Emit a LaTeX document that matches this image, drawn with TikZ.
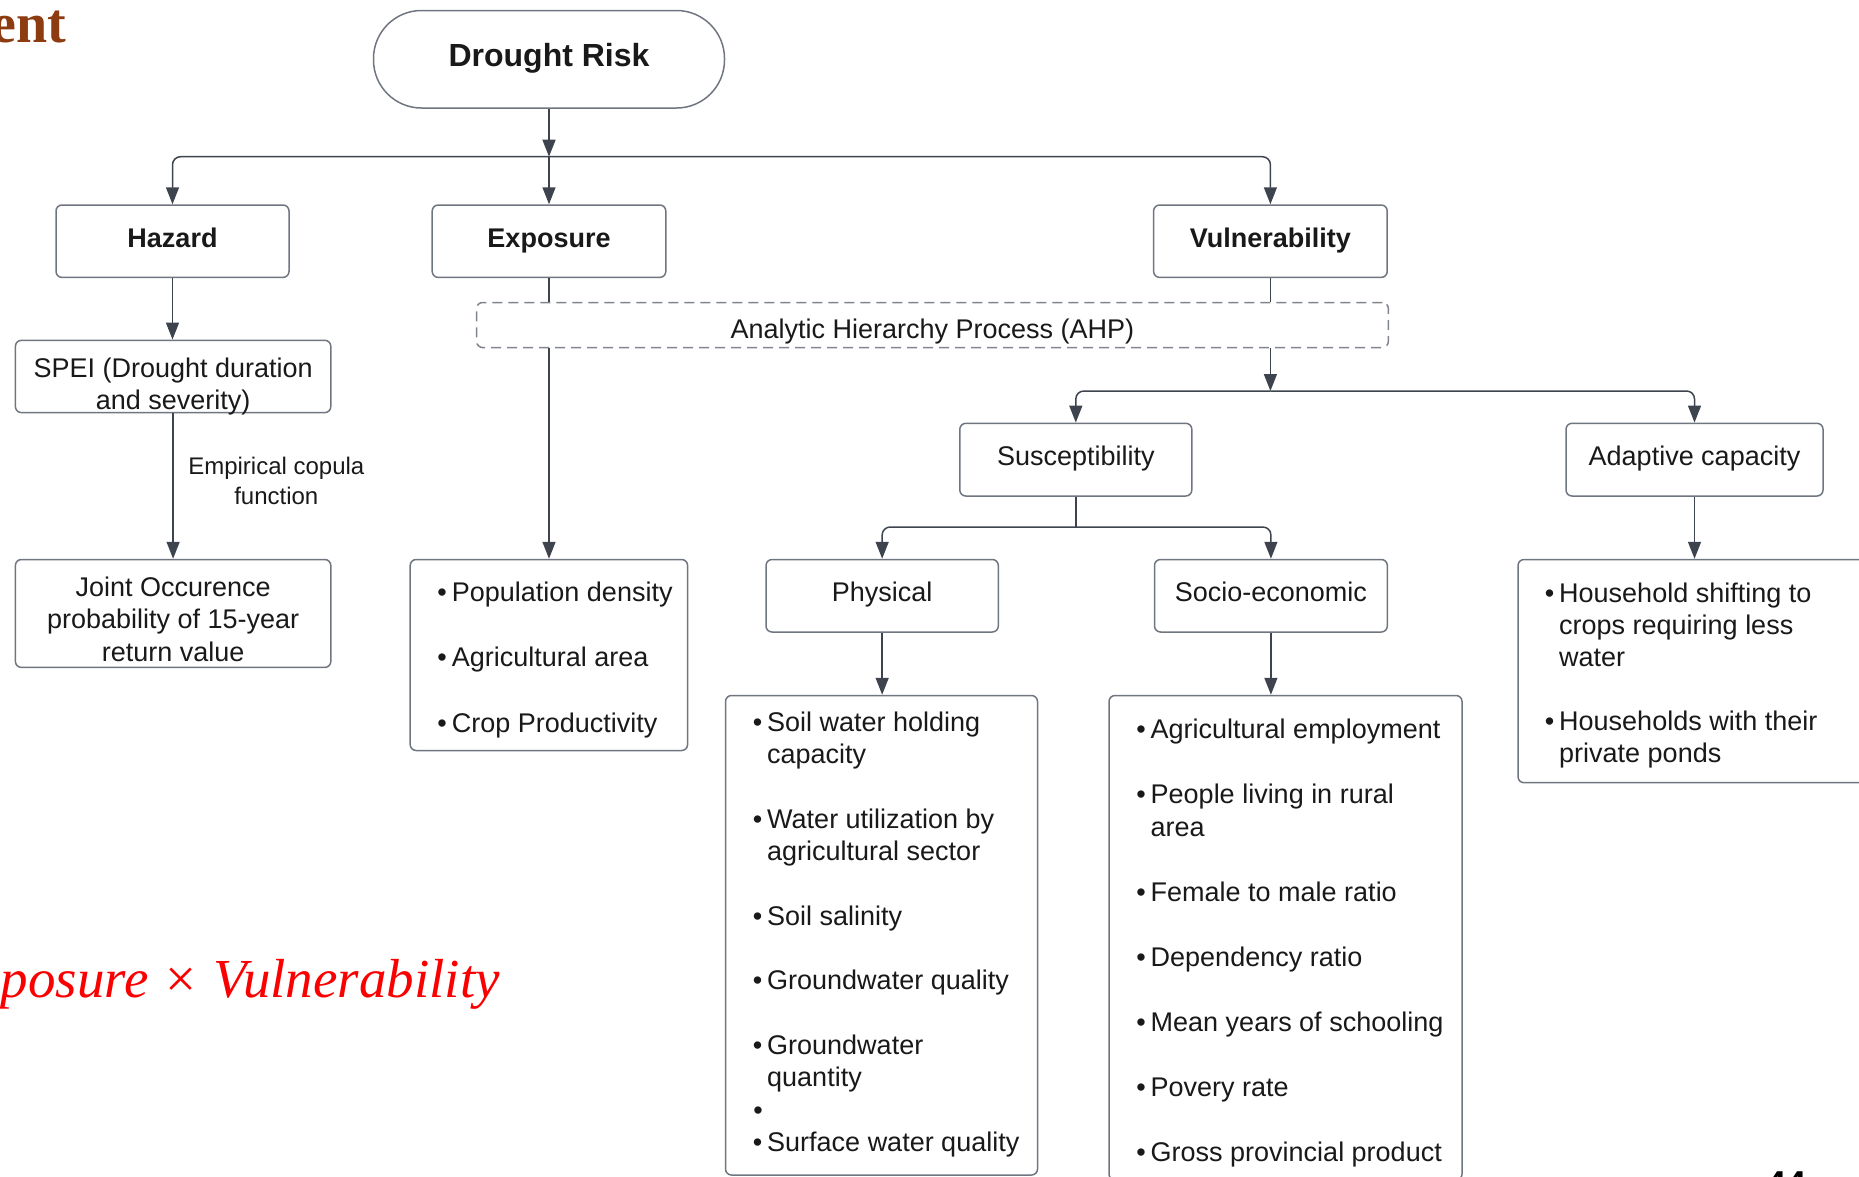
\documentclass[tikz,border=0pt]{standalone}
\usepackage{fontspec}
\setmainfont{Liberation Sans}
\newfontfamily\serifLS{Liberation Serif}
\usetikzlibrary{arrows.meta}
\definecolor{boxline}{RGB}{112,118,128}
\definecolor{dashline}{RGB}{128,132,140}
\definecolor{conn}{RGB}{62,68,78}
\definecolor{txt}{RGB}{25,25,25}
\definecolor{titlebrown}{RGB}{140,60,16}
\definecolor{formred}{RGB}{250,0,0}
\newcommand\fsBox{\fontsize{27}{32.4}\selectfont}
\newcommand\fsBig{\fontsize{32}{36}\selectfont}
\newcommand\fsLab{\fontsize{24}{29}\selectfont}
\newcommand\bul{\llap{\textbullet\hspace{5pt}}}
\begin{document}
\begin{tikzpicture}[x=1pt,y=-1pt,
  box/.style={draw=boxline, line width=1.5pt, rounded corners=6pt, fill=white,
    inner sep=0pt, text=txt, font=\fsBox, text height=18.6pt, text depth=6.75pt},
  bbox/.style={box, font=\fsBox\bfseries},
  item/.style={anchor=base west, inner sep=0pt, text=txt, font=\fsBox},
  citem/.style={anchor=base, inner sep=0pt, text=txt, font=\fsBox},
  con/.style={draw=conn, line width=1.5pt, rounded corners=8pt},
  arr/.style={con, -{Triangle[length=17pt,width=13pt]}},
]
\useasboundingbox (0,0) rectangle (1859,1176);
\clip (0,0) rectangle (1859,1176);

% title fragment and formula
\node[anchor=base east, inner sep=0pt, text=titlebrown,
  font=\serifLS\bfseries\fontsize{56}{60}\selectfont] (ttl) at (66,42) {ent};
\node[anchor=base east, inner sep=0pt, text=formred,
  font=\serifLS\itshape\fontsize{55}{60}\selectfont] (formula) at (500,997)
  {Exposure\hspace{17pt}{\upshape ×}\hspace{17pt}Vulnerability};
\node[anchor=base west, inner sep=0pt, text=black,
  font=\bfseries\fontsize{36}{40}\selectfont] (pnum) at (1766,1196) {44};

% main boxes
\node[box, font=\fsBig\bfseries, text height=22pt, text depth=8pt,
  rounded corners=48pt, minimum width=351pt, minimum height=97.5pt]
  (drought) at (549,59.25) {Drought Risk};
\node[bbox, minimum width=233pt, minimum height=72.4pt] (hazard) at (172.5,241.2) {Hazard};
\node[bbox, minimum width=233.6pt, minimum height=72.4pt] (exposure) at (549,241.2) {Exposure};
\node[bbox, minimum width=233.6pt, minimum height=72.4pt] (vuln) at (1270.4,241.2) {Vulnerability};

\node[draw=dashline, line width=1.5pt, dash pattern=on 10pt off 6pt, rounded corners=6pt,
  minimum width=911.7pt, minimum height=45pt, inner sep=0pt] (ahp) at (932.45,325) {};
\node[citem] (ahptext) at (932.45,338) {Analytic Hierarchy Process (AHP)};

\node[box, minimum width=315.4pt, minimum height=72.3pt] (spei) at (173.1,376.45) {};
\node[citem] (spei1) at (173.1,377.5) {SPEI (Drought duration};
\node[citem] (spei2) at (173.1,409.5) {and severity)};

\node[box, minimum width=315.4pt, minimum height=107.9pt] (joint) at (173.1,613.45) {};
\node[citem] (joint1) at (173.1,596) {Joint Occurence};
\node[citem] (joint2) at (173.1,628.5) {probability of 15-year};
\node[citem] (joint3) at (173.1,661) {return value};

\node[anchor=base, inner sep=0pt, text=txt, font=\fsLab] (lab1) at (276.3,474.5) {Empirical copula};
\node[anchor=base, inner sep=0pt, text=txt, font=\fsLab] (lab2) at (276.3,504) {function};

\node[box, minimum width=277.4pt, minimum height=191pt] (pop) at (548.9,655) {};
\node[item] (pop1) at (451.7,601.6) {\bul Population density};
\node[item] (pop2) at (451.7,666.8) {\bul Agricultural area};
\node[item] (pop3) at (451.7,732) {\bul Crop Productivity};

\node[box, minimum width=232pt, minimum height=72.7pt] (susc) at (1075.8,459.65) {Susceptibility};
\node[box, minimum width=257pt, minimum height=72.7pt] (adapt) at (1694.5,459.65) {Adaptive capacity};
\node[box, minimum width=232.3pt, minimum height=72.5pt] (phys) at (882.15,595.75) {Physical};
\node[box, minimum width=232.8pt, minimum height=72.5pt] (socio) at (1270.9,595.75) {Socio-economic};

% physical list
\node[box, minimum width=312pt, minimum height=479.5pt] (physlist) at (881.5,935.25) {};
\node[item] (ph1) at (767,731.5) {\bul Soil water holding};
\node[item] (ph2) at (767,763.8) {capacity};
\node[item] (ph3) at (767,828.4) {\bul Water utilization by};
\node[item] (ph4) at (767,860.7) {agricultural sector};
\node[item] (ph5) at (767,925.3) {\bul Soil salinity};
\node[item] (ph6) at (767,989.9) {\bul Groundwater quality};
\node[item] (ph7) at (767,1054.5) {\bul Groundwater};
\node[item] (ph8) at (767,1086.8) {quantity};
\node[item] (ph9) at (767,1119.1) {\bul\strut};
\node[item] (ph10) at (767,1151.4) {\bul Surface water quality};

% socio-economic list
\node[box, minimum width=353pt, minimum height=484.5pt] (soclist) at (1285.5,937.75) {};
\node[item] (so1) at (1150.5,738.5) {\bul Agricultural employment};
\node[item] (so2) at (1150.5,803.5) {\bul People living in rural};
\node[item] (so3) at (1150.5,836) {area};
\node[item] (so4) at (1150.5,901) {\bul Female to male ratio};
\node[item] (so5) at (1150.5,966) {\bul Dependency ratio};
\node[item] (so6) at (1150.5,1031) {\bul Mean years of schooling};
\node[item] (so7) at (1150.5,1096) {\bul Povery rate};
\node[item] (so8) at (1150.5,1161) {\bul Gross provincial product};

% adaptive list
\node[box, minimum width=382pt, minimum height=223.2pt] (hh) at (1709,671.1) {};
\node[item] (hh1) at (1559,602.7) {\bul Household shifting to};
\node[item] (hh2) at (1559,634.7) {crops requiring less};
\node[item] (hh3) at (1559,666.7) {water};
\node[item] (hh4) at (1559,730.7) {\bul Households with their};
\node[item] (hh5) at (1559,762.7) {private ponds};

% junctions
\coordinate (j1) at (549,156.7);
\coordinate (j2) at (1270.4,391);
\coordinate (j3) at (1075.8,527);

% connectors
\draw[arr] (drought.south) -- (j1);
\draw[arr] (j1) -- (exposure.north);
\draw[arr] (j1) -| (hazard.north);
\draw[arr] (j1) -| (vuln.north);
\draw[arr] (hazard.south) -- (hazard.south |- spei.north);
\draw[arr] (spei.south) -- (spei.south |- joint.north);
\draw[con] (exposure.south) -- (exposure.south |- ahp.north);
\draw[arr] (exposure.south |- ahp.south) -- (exposure.south |- pop.north);
\draw[con] (vuln.south) -- (vuln.south |- ahp.north);
\draw[arr] (vuln.south |- ahp.south) -- (j2);
\draw[arr] (j2) -| (susc.north);
\draw[arr] (j2) -| (adapt.north);
\draw[con] (susc.south) -- (j3);
\draw[arr] (j3) -| (phys.north);
\draw[arr] (j3) -| (socio.north);
\draw[arr] (phys.south) -- (phys.south |- physlist.north);
\draw[arr] (socio.south) -- (socio.south |- soclist.north);
\draw[arr] (adapt.south) -- (adapt.south |- hh.north);
\end{tikzpicture}
\end{document}
